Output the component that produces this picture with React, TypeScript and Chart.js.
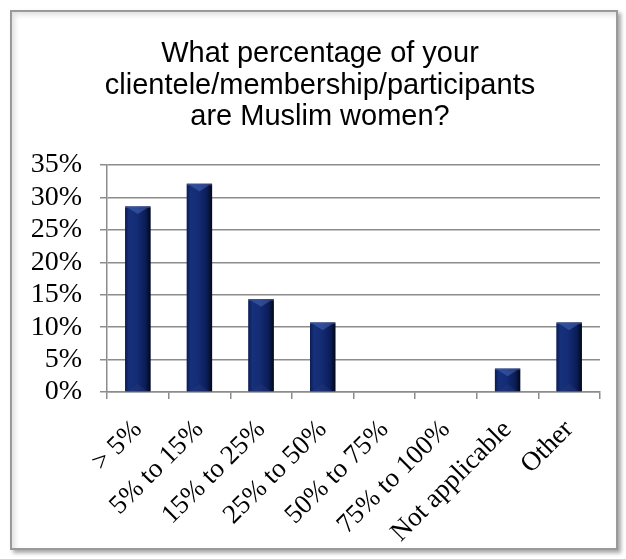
import React, { useEffect, useRef } from 'react';
import { Chart, registerables } from 'chart.js';

Chart.register(...registerables);

const categories = ['> 5%', '5% to 15%', '15% to 25%', '25% to 50%', '50% to 75%', '75% to 100%', 'Not applicable', 'Other'];
const shares = [28.6, 32.1, 14.3, 10.7, 0, 0, 3.6, 10.7];
const titleLines = ['What percentage of your', 'clientele/membership/participants', 'are Muslim women?'];
const yMax = 35;
const yStep = 5;

const titleDraw = {
  id: 'titleDraw',
  afterDraw(chart: any) {
    const ctx = chart.ctx;
    ctx.save();
    ctx.font = '29px "Liberation Sans", Arial, sans-serif';
    ctx.fillStyle = '#000';
    ctx.textAlign = 'center';
    ctx.textBaseline = 'alphabetic';
    titleLines.forEach((line, i) => {
      ctx.fillText(line, 320, 62 + i * 31.5);
    });
    ctx.restore();
  },
};

const barShade = {
  id: 'barShade',
  afterDatasetsDraw(chart: any) {
    const ctx = chart.ctx;
    const meta = chart.getDatasetMeta(0);
    meta.data.forEach((bar: any) => {
      const { x, y, base, width } = bar.getProps(['x', 'y', 'base', 'width'], true);
      const h = base - y;
      if (h <= 0.5) return;
      const l = x - width / 2;
      const r = x + width / 2;
      const g = ctx.createLinearGradient(l, 0, r, 0);
      g.addColorStop(0, '#0b1c52');
      g.addColorStop(0.15, '#16307a');
      g.addColorStop(0.45, '#142c74');
      g.addColorStop(0.8, '#0b1d58');
      g.addColorStop(1, '#020817');
      ctx.save();
      ctx.fillStyle = g;
      ctx.fillRect(l, y, width, h);
      ctx.fillStyle = 'rgba(120,150,220,0.35)';
      ctx.fillRect(l, y, width, 1.5);
      const t = Math.min(width * 0.3, h / 2);
      ctx.beginPath();
      ctx.moveTo(l + 3, y + 1.5);
      ctx.lineTo(r - 3, y + 1.5);
      ctx.lineTo(x, y + t);
      ctx.closePath();
      ctx.fillStyle = 'rgba(80,115,195,0.45)';
      ctx.fill();
      const b = Math.min(width * 0.3, h / 2);
      ctx.beginPath();
      ctx.moveTo(l + 3, base);
      ctx.lineTo(r - 3, base);
      ctx.lineTo(x, base - b);
      ctx.closePath();
      ctx.fillStyle = 'rgba(40,60,120,0.35)';
      ctx.fill();
      ctx.restore();
    });
  },
};

export default function App() {
  const ref = useRef<HTMLCanvasElement | null>(null);

  useEffect(() => {
    if (!ref.current) return;
    const chart = new Chart(ref.current, {
      type: 'bar',
      data: {
        labels: categories,
        datasets: [
          {
            data: shares,
            backgroundColor: '#10256a',
            borderWidth: 0,
            categoryPercentage: 1,
            barPercentage: 0.41,
          },
        ],
      },
      options: {
        animation: false,
        responsive: false,
        maintainAspectRatio: false,
        layout: { padding: { left: 14, right: 26, top: 165, bottom: 0 } },
        plugins: {
          legend: { display: false },
          tooltip: { enabled: false },
          title: { display: false },
        },
        scales: {
          x: {
            grid: { display: true, drawOnChartArea: false, drawTicks: true, tickLength: 7, color: '#8c8c8c', lineWidth: 1.5, offset: true },
            border: { display: true, color: '#8c8c8c', width: 1.5 },
            ticks: {
              color: '#000',
              font: { family: '"Liberation Serif", serif', size: 27 },
              minRotation: 45,
              maxRotation: 45,
              padding: 15,
              autoSkip: false,
            },
            afterFit: (s: any) => {
              s.height = 167;
            },
          },
          y: {
            min: 0,
            max: yMax,
            ticks: {
              stepSize: yStep,
              autoSkip: false,
              callback: (v: any) => v + '%',
              color: '#000',
              font: { family: '"Liberation Serif", serif', size: 28 },
              padding: 18,
            },
            grid: { color: '#8c8c8c', lineWidth: 1.5, tickLength: 7 },
            border: { color: '#8c8c8c', width: 1.5 },
            afterFit: (s: any) => {
              s.width = 93;
            },
          },
        },
      },
      plugins: [barShade, titleDraw],
    });
    return () => chart.destroy();
  }, []);

  return (
    <div style={{ position: 'fixed', left: 0, top: 0, width: 626, height: 559, background: '#fff' }}>
      <div
        style={{
          position: 'absolute',
          left: 10,
          top: 10,
          width: 604,
          height: 536,
          border: '2px solid #9a9a9a',
          background: '#fff',
          boxShadow: '3px 3px 4px rgba(0,0,0,0.35), inset 3px 3px 5px rgba(0,0,0,0.12)',
        }}
      />
      <canvas ref={ref} width={626} height={559} style={{ position: 'absolute', left: 0, top: 0, width: 626, height: 559 }} />
    </div>
  );
}
